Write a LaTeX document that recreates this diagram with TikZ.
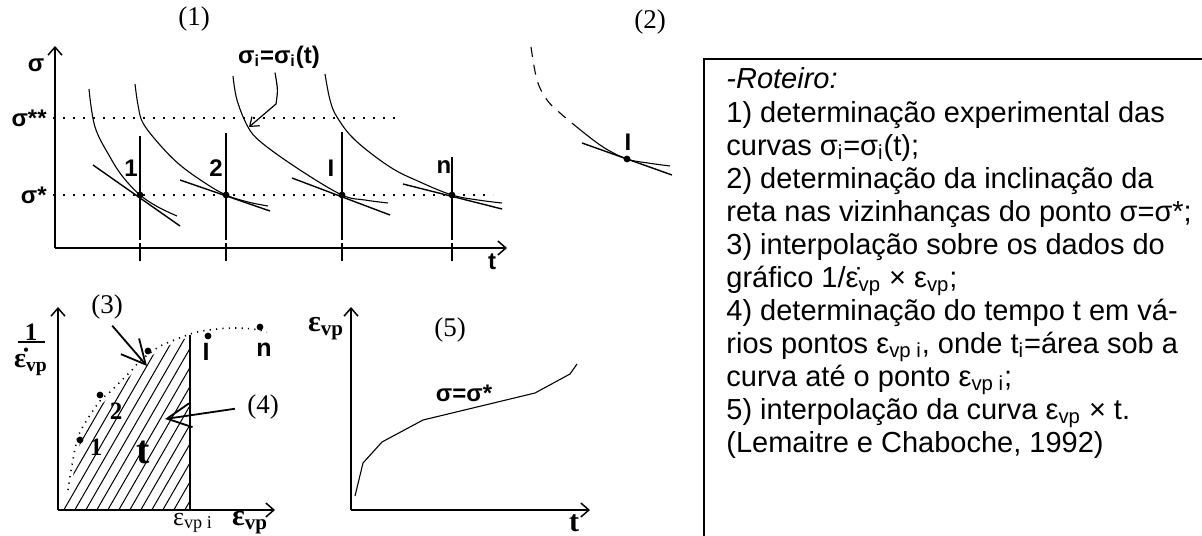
\documentclass[tikz,border=0pt]{standalone}
\usepackage{fontspec}
\setmainfont{Liberation Serif}
\setsansfont{Liberation Sans}
\usetikzlibrary{arrows.meta}
\begin{document}
\begin{tikzpicture}[x=0.5pt,y=-0.5pt,
  ax/.style={line width=0.75pt,-{Straight Barb[length=4pt,width=7pt]}},
  crv/.style={line width=0.55pt},
  tang/.style={line width=0.7pt},
  vline/.style={line width=0.9pt},
  dotl/.style={line width=1pt,dash pattern=on 1pt off 4pt},
  fdot/.style={line width=0.8pt,dash pattern=on 0.6pt off 2.6pt},
  pt/.style={circle,fill,inner sep=0pt,minimum size=3.4pt},
  blab/.style={font=\fontsize{12}{14}\selectfont\sffamily\bfseries,inner sep=0pt},
  bslab/.style={font=\fontsize{12.5}{14}\selectfont\rmfamily\bfseries,inner sep=0pt},
  slab/.style={font=\fontsize{13.5}{15}\selectfont\rmfamily,inner sep=0pt},
  txt/.style={font=\fontsize{14.5}{16.5}\selectfont\sffamily,anchor=base west,inner sep=0pt},
  larr/.style={line width=0.9pt,-{Straight Barb[length=12pt,width=12pt]}},
  sarr/.style={line width=0.6pt,-{Straight Barb[length=4pt,width=6pt]}},
]
\useasboundingbox (0,0) rectangle (1202,535);

% ---------------- panel (1) ----------------
\node[slab] (p1) at (194,19) {(1)};
\coordinate (o1) at (55,248);
\coordinate (y1) at (55,46);
\coordinate (x1) at (507,248);
\draw[ax] (o1) -- (y1);
\draw[ax] (o1) -- (x1);
\node[blab] (sig) at (36,65) {σ};
\node[blab,anchor=east] (sigss) at (47,118) {σ**};
\node[blab,anchor=east] (sigs) at (47,195) {σ*};
\node[blab] (tlab1) at (492,262) {t};
\draw[dotl] (sigss.east) ++(6,0) -- (395,118);
\draw[dotl] (sigs.east) ++(6,0) -- (493,195);
% vertical lines and ticks
\foreach \xx/\yt in {140/136,226/133,342/132,452/157}{
  \draw[vline] (\xx,\yt) -- (\xx,240);
  \draw[vline] (\xx,243) -- (\xx,261);
}
% curves
\draw[crv] plot[smooth,tension=0.6] coordinates {(89,89) (95,127) (110,157) (123,177) (140,195) (158,207) (177,216)};
\draw[tang] (93,165) -- (180,226);
\draw[crv] plot[smooth,tension=0.6] coordinates {(135,84) (138,105) (143,123) (160,145) (180,165) (205,183) (226,195) (248,202) (268,206)};
\draw[tang] (180,180) -- (270,211);
\draw[crv] plot[smooth,tension=0.6] coordinates {(233,76) (237,100) (248,127) (262,143) (300,170) (342,195) (365,200) (388,203)};
\draw[tang] (292,178) -- (390,215);
\draw[crv] plot[smooth,tension=0.6] coordinates {(325,74) (330,100) (337,117) (355,140) (390,167) (420,182) (452,195) (478,200) (502,203)};
\draw[tang] (403,184) -- (502,209);
\foreach \xx in {140,226,342,452} \node[pt] at (\xx,195) {};
\node[blab] (n1a) at (131,168) {1};
\node[blab] (n1b) at (216,168) {2};
\node[blab] (n1c) at (331,168) {I};
\node[blab] (n1d) at (444,167) {n};
\node[blab] (siglab) at (279,57) {σ\textsubscript{i}=σ\textsubscript{i}(t)};
\coordinate (sigtip) at (249,127);
\coordinate (sigbend) at (276,104);
\draw[sarr] (siglab.south -| 275,0) ++(0,4) .. controls (278,90) .. (sigbend) -- (sigtip);

% ---------------- panel (2) ----------------
\node[slab] (p2) at (650,22) {(2)};
\draw[crv,dash pattern=on 5pt off 4pt] plot[smooth,tension=0.6] coordinates {(531,47) (537,80) (547,100) (560,113) (578,128)};
\draw[crv] plot[smooth,tension=0.6] coordinates {(578,128) (603,147) (627,159) (648,163) (670,166)};
\draw[tang] (582,143) -- (672,175);
\node[pt] at (627,159) {};
\node[blab] (n2) at (628,142) {I};

% ---------------- panel (3)/(4) ----------------
\coordinate (o3) at (58,510);
\draw[ax] (o3) -- (58,307);
\draw[ax] (o3) -- (275,510);
\begin{scope}
  \clip (58,510) -- (64,500) -- (71,488) -- (75,465) -- (81,438) -- (90,421) -- (103,403) -- (113,393) -- (123,383) -- (135,371) -- (143,362) -- (160,350) -- (170,345) -- (184,339) -- (190,337) -- (190,510) -- cycle;
  \foreach \i in {-16,...,13} \draw[line width=0.5pt] ({58+11*\i},520) -- ++(150,-260);
\end{scope}
\draw[vline] (190,335) -- (190,510);
\draw[fdot] plot[smooth,tension=0.6] coordinates {(68,490) (72,465) (78,437) (87,420) (100,401) (110,392) (120,382) (132,370) (140,361) (157,348) (167,343) (182,337) (197,332) (217,329) (233,328) (253,329) (267,332)};
\foreach \p in {(80,440),(100,395),(148,351),(208,336),(260,327)} \node[pt] at \p {};
\node[bslab] (n3a) at (96,447) {1};
\node[bslab] (n3b) at (116,411) {2};
\node[blab,font=\fontsize{12.5}{14}\selectfont\sffamily\bfseries] (n3c) at (206,352) {I};
\node[blab,font=\fontsize{12.5}{14}\selectfont\sffamily\bfseries] (n3d) at (264,350) {n};
\node[bslab,font=\fontsize{20}{22}\selectfont\rmfamily\bfseries] (tt) at (143,452) {t};
\node[slab] (p3) at (107,307) {(3)};
\coordinate (t3) at (147,366);
\draw[larr,shorten <=4pt] (p3.south) -- (t3);
\node[slab] (p4) at (263,407) {(4)};
\coordinate (t4) at (165,419);
\draw[larr,shorten <=6pt] (p4.west) -- (t4);
\node[bslab] (yone) at (31,332) {1};
\draw[line width=1.2pt] (18,342) -- (45,342);
\node[bslab,font=\fontsize{14}{16}\selectfont\rmfamily\bfseries] (yeps) at (31,362) {\.{ε}\textsubscript{vp}};
\node[slab,font=\fontsize{13}{15}\selectfont\rmfamily,anchor=base] (epsi) at (193,525) {ε\textsubscript{vp i}};
\node[bslab,font=\fontsize{15}{17}\selectfont\rmfamily\bfseries,anchor=base] (epsx) at (250,525) {ε\textsubscript{vp}};

% ---------------- panel (5) ----------------
\coordinate (o5) at (351,510);
\draw[ax] (o5) -- (351,307);
\draw[ax] (o5) -- (590,510);
\node[bslab,font=\fontsize{15}{17}\selectfont\rmfamily\bfseries] (eps5) at (326,329) {ε\textsubscript{vp}};
\node[slab] (p5) at (450,330) {(5)};
\node[blab] (sig5) at (464,393) {σ=σ*};
\node[bslab,font=\fontsize{15}{17}\selectfont\rmfamily\bfseries] (t5) at (574,523) {t};
\draw[crv] (355,496) -- (363,463) -- (382,442) -- (423,420) -- (535,393) -- (570,374) -- (577,364);

% ---------------- text box ----------------
\draw[line width=0.8pt] (1215,59) -- (704,59) -- (704,545);
\node[txt] (r0) at (726,89) {\textit{-Roteiro:}};
\node[txt] (r1) at (726,122) {1) determinação experimental das};
\node[txt] (r2) at (726,155) {curvas σ\textsubscript{i}=σ\textsubscript{i}(t);};
\node[txt] (r3) at (726,188) {2) determinação da inclinação da};
\node[txt] (r4) at (726,221) {reta nas vizinhanças do ponto σ=σ*;};
\node[txt] (r5) at (726,254) {3) interpolação sobre os dados do};
\node[txt] (r6) at (726,287) {gráfico 1/\.{ε}\textsubscript{vp} × ε\textsubscript{vp};};
\node[txt] (r7) at (726,320) {4) determinação do tempo t em vá-};
\node[txt] (r8) at (726,353) {rios pontos ε\textsubscript{vp i}, onde t\textsubscript{i}=área sob a};
\node[txt] (r9) at (726,386) {curva até o ponto ε\textsubscript{vp i};};
\node[txt] (r10) at (726,419) {5) interpolação da curva ε\textsubscript{vp} × t.};
\node[txt] (r11) at (726,452) {(Lemaitre e Chaboche, 1992)};
\end{tikzpicture}
\end{document}
